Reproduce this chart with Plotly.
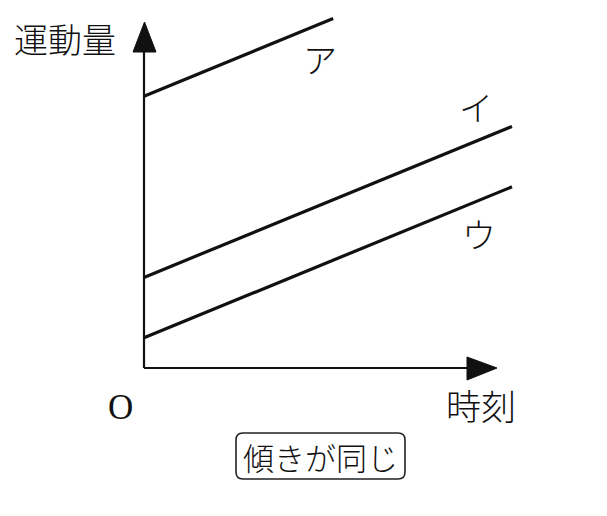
import plotly.graph_objects as go

# ---- data ----
labels = ["ア", "イ", "ウ"]
intercepts = [18.0, 6.0, 2.0]   # momentum at t = 0
slopes = [1.0, 1.0, 1.0]        # same slope (傾きが同じ)
t_ends = [5.14, 10.0, 10.0]
y_title = "運動量"
x_title = "時刻"
origin_label = "O"
note = "傾きが同じ"

W, H = 607, 516
# pixel mapping (layout only)
X0_PX, Y0_PX = 144, 368
PX_PER_T, PX_PER_P = 36.8, 15.1
xr = [-X0_PX / PX_PER_T, (W - X0_PX) / PX_PER_T]
yr = [-(H - Y0_PX) / PX_PER_P, Y0_PX / PX_PER_P]

def px2x(px):
    return (px - X0_PX) / PX_PER_T

def px2y(py):
    return (Y0_PX - py) / PX_PER_P

fig = go.Figure()

for lab, b, m, te in zip(labels, intercepts, slopes, t_ends):
    fig.add_trace(go.Scatter(x=[0, te], y=[b, b + m * te], mode="lines",
                             line=dict(color="#111", width=3.2), name=lab,
                             showlegend=False, hoverinfo="skip"))

shapes = []
# axes lines
shapes.append(dict(type="line", xref="x", yref="y", x0=0, y0=0,
                   x1=px2x(470), y1=0, line=dict(color="#111", width=2.2)))
shapes.append(dict(type="line", xref="x", yref="y", x0=0, y0=0,
                   x1=0, y1=px2y(50), line=dict(color="#111", width=2.2)))
# arrow heads
def tri(pts):
    return "M" + " L".join(f"{a},{b}" for a, b in pts) + " Z"

shapes.append(dict(type="path", xref="x", yref="y",
                   path=tri([(px2x(467), px2y(357)), (px2x(497), px2y(368)), (px2x(467), px2y(380))]),
                   fillcolor="#111", line=dict(color="#111", width=1)))
shapes.append(dict(type="path", xref="x", yref="y",
                   path=tri([(px2x(133), px2y(52)), (px2x(144.5), px2y(22)), (px2x(156), px2y(52))]),
                   fillcolor="#111", line=dict(color="#111", width=1)))

# rounded box
bx0, bx1, by0, by1, r = 236, 405, 433, 479, 7
def fx(px): return px / W
def fy(py): return 1 - py / H
path = (f"M{fx(bx0+r)},{fy(by0)} L{fx(bx1-r)},{fy(by0)} Q{fx(bx1)},{fy(by0)} {fx(bx1)},{fy(by0+r)} "
        f"L{fx(bx1)},{fy(by1-r)} Q{fx(bx1)},{fy(by1)} {fx(bx1-r)},{fy(by1)} "
        f"L{fx(bx0+r)},{fy(by1)} Q{fx(bx0)},{fy(by1)} {fx(bx0)},{fy(by1-r)} "
        f"L{fx(bx0)},{fy(by0+r)} Q{fx(bx0)},{fy(by0)} {fx(bx0+r)},{fy(by0)} Z")
shapes.append(dict(type="path", xref="paper", yref="paper", path=path,
                   line=dict(color="#222", width=1.6)))

jp = "Noto Sans CJK JP"
ann = []
def add_text(text, cx, cy, size, family=jp, weight=300):
    ann.append(dict(text=text, x=px2x(cx), y=px2y(cy), xref="x", yref="y",
                    showarrow=False, xanchor="center", yanchor="middle",
                    font=dict(family=family, size=size, color="#111", weight=weight)))

add_text(y_title, 65, 38, 34)
label_pos = [(320, 58), (476, 106), (479, 233)]
for lab, (cx, cy) in zip(labels, label_pos):
    add_text(lab, cx, cy, 34)
add_text(origin_label, 120, 407, 35, "Liberation Serif", 400)
add_text(x_title, 481, 404, 35)
add_text(note, 320, 456, 31)

fig.update_layout(
    width=W, height=H,
    margin=dict(l=0, r=0, t=0, b=0),
    paper_bgcolor="white", plot_bgcolor="white",
    xaxis=dict(range=xr, visible=False, fixedrange=True),
    yaxis=dict(range=yr, visible=False, fixedrange=True),
    shapes=shapes, annotations=ann, showlegend=False,
)

fig.write_html("out.html", config={"displayModeBar": False},
               post_script="document.body.style.margin='0';document.body.style.overflow='hidden';")
